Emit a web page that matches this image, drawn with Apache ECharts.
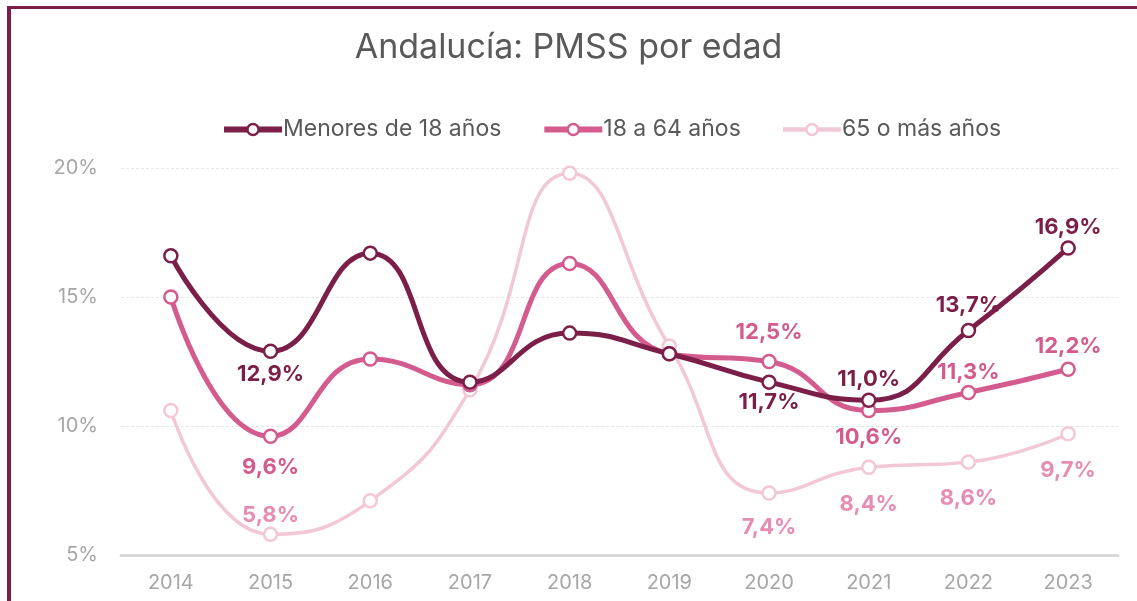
<!DOCTYPE html>
<html>
<head>
<meta charset="utf-8">
<title>Andalucía: PMSS por edad</title>
<style>
  html, body { margin: 0; padding: 0; background: #fff; }
  #chart { width: 1137px; height: 601px; }
</style>
</head>
<body>
<div id="chart"></div>
<script src="https://cdn.jsdelivr.net/npm/echarts@6/dist/echarts.min.js"></script>
<script>
// datos
var years = ['2014', '2015', '2016', '2017', '2018', '2019', '2020', '2021', '2022', '2023'];
var menores18 = [16.6, 12.9, 16.7, 11.7, 13.6, 12.8, 11.7, 11.0, 13.7, 16.9];
var de18a64 = [15.0, 9.6, 12.6, 11.6, 16.3, 12.8, 12.5, 10.6, 11.3, 12.2];
var mayores65 = [10.6, 5.8, 7.1, 11.4, 19.8, 13.1, 7.4, 8.4, 8.6, 9.7];
var seriesNames = ['Menores de 18 años', '18 a 64 años', '65 o más años'];

// que puntos llevan etiqueta: [indice, posicion, distancia]
var labelsMenores = [[1, 'bottom', 4], [6, 'bottom', 2], [7, 'top', 2], [8, 'top', 6], [9, 'top', 2]];
var labels18a64 = [[1, 'bottom', 12], [6, 'top', 10], [7, 'bottom', 8], [8, 'top', 1], [9, 'top', 4]];
var labels65 = [[1, 'top', 0], [6, 'bottom', 16], [7, 'bottom', 18], [8, 'bottom', 18], [9, 'bottom', 18]];

var colors = ['#7b1f48', '#d45b8d', '#f2c7d7'];
var labelColors = ['#7b1f48', '#d45b8d', '#e68db3'];
var widths = [5, 5, 3.5];
var FONT = 'Inter, "Noto Sans", sans-serif';

function buildData(values, labels, color) {
  return values.map(function (v, i) {
    var item = { value: v, label: { show: false } };
    labels.forEach(function (l) {
      if (l[0] === i) {
        item.label = {
          show: true,
          position: l[1],
          distance: l[2],
          color: color,
          fontSize: 22,
          fontWeight: 'bold',
          fontFamily: FONT,
          formatter: function (p) { return p.value.toFixed(1).replace('.', ',') + '%'; }
        };
      }
    });
    return item;
  });
}

function makeSeries(name, values, labels, idx) {
  return {
    name: name,
    type: 'line',
    smooth: 0.5,
    data: buildData(values, labels, labelColors[idx]),
    symbol: 'circle',
    symbolSize: 13,
    lineStyle: { color: colors[idx], width: widths[idx] },
    itemStyle: { color: '#fff', borderColor: colors[idx], borderWidth: 2.5 },
    emphasis: { disabled: true },
    z: 10 - idx
  };
}

var chart = echarts.init(document.getElementById('chart'));
chart.setOption({
  animation: false,
  title: {
    text: 'Andalucía: PMSS por edad',
    left: 'center',
    top: 26,
    textStyle: { fontFamily: FONT, fontSize: 34, fontWeight: 'normal', color: '#595959' }
  },
  legend: {
    top: 113,
    left: 216,
    itemWidth: 58,
    itemHeight: 14,
    itemGap: 40,
    data: seriesNames.map(function (n, i) {
      return {
        name: n,
        lineStyle: { width: widths[i] + 1, color: colors[i] },
        itemStyle: { color: '#fff', borderColor: colors[i], borderWidth: 2.5 }
      };
    }),
    textStyle: { fontFamily: FONT, fontSize: 23, color: '#595959', padding: [0, 0, 0, -4] }
  },
  grid: { left: 121, right: 19, top: 168, bottom: 46 },
  xAxis: {
    type: 'category',
    data: years,
    boundaryGap: true,
    axisLine: { lineStyle: { color: '#d9d9d9', width: 3 } },
    axisTick: { show: false },
    axisLabel: { fontFamily: FONT, fontSize: 20, color: '#a6a6a6', margin: 18 }
  },
  yAxis: {
    type: 'value',
    min: 5,
    max: 20,
    interval: 5,
    axisLine: { show: false },
    axisTick: { show: false },
    splitLine: { lineStyle: { color: '#e6e6e6', type: [3, 2], width: 1 } },
    axisLabel: { fontFamily: FONT, fontSize: 20, color: '#a6a6a6', margin: 23, formatter: '{value}%' }
  },
  graphic: [
    { type: 'line', shape: { x1: 8, y1: 7.5, x2: 1137, y2: 7.5 }, style: { stroke: '#7b1f48', lineWidth: 3 } },
    { type: 'line', shape: { x1: 9, y1: 6, x2: 9, y2: 601 }, style: { stroke: '#7b1f48', lineWidth: 4 } }
  ],
  series: [
    makeSeries(seriesNames[0], menores18, labelsMenores, 0),
    makeSeries(seriesNames[1], de18a64, labels18a64, 1),
    makeSeries(seriesNames[2], mayores65, labels65, 2)
  ]
});
</script>
</body>
</html>
